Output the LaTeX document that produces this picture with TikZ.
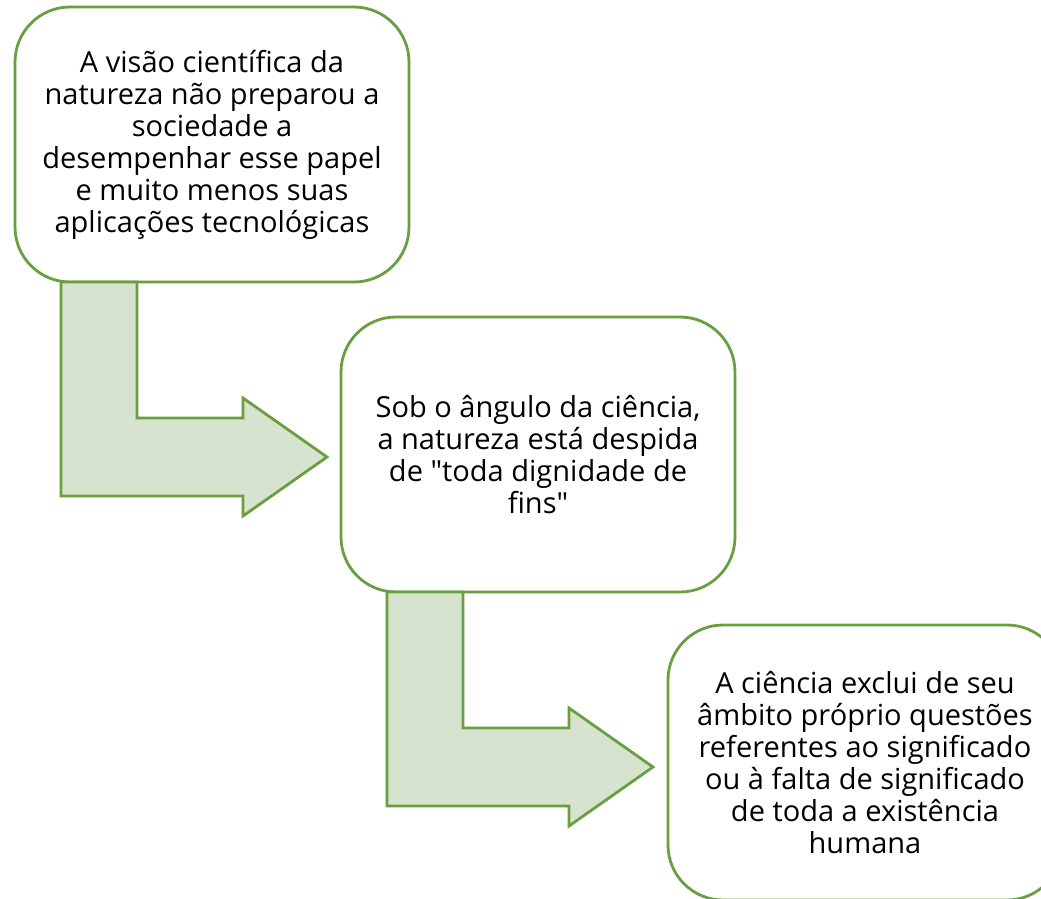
\documentclass[tikz,border=0pt]{standalone}
\usepackage{fontspec}
\setmainfont{Open Sans}
\usetikzlibrary{positioning,calc}
\definecolor{leafGreen}{HTML}{6A9F3F}
\definecolor{paleGreen}{HTML}{D6E3CF}
\tikzset{
        x=1pt, y=-1pt,
        % Text boxes
        node_box/.style={rectangle, rounded corners=55pt, draw=leafGreen, line width=2.8pt, fill=white,
            minimum width=394pt, minimum height=275pt, inner sep=0pt, outer sep=0pt, align=center,
            font=\fontsize{29}{32}\selectfont},
        % Bent arrows between the boxes
        bent_arrow/.style={draw=leafGreen, fill=paleGreen, line width=2.8pt, line join=miter}
}
\begin{document}
\begin{tikzpicture}
            \useasboundingbox (0,0) rectangle (1041,898);
            \node[node_box] (box1) at (212,144.5) {A visão científica da\\natureza não preparou a\\sociedade a\\desempenhar esse papel\\e muito menos suas\\aplicações tecnológicas};
            \node[node_box, below right=35pt and -68pt of box1] (box2) {Sob o ângulo da ciência,\\a natureza está despida\\de \textquotedbl toda dignidade de\\fins\textquotedbl};
            \node[node_box, below right=33pt and -67pt of box2] (box3) {A ciência exclui de seu\\âmbito próprio questões\\referentes ao significado\\ou à falta de significado\\de toda a existência\\humana};
            \foreach \src in {box1,box2}
                \draw[bent_arrow] ($(\src.south west)+(46,0)$) -- ++(76,0) -- ++(0,136) -- ++(106,0)
                    -- ++(0,-20) -- ++(84,59) -- ++(-84,59) -- ++(0,-20) -- ++(-182,0) -- cycle;
\end{tikzpicture}
\end{document}
